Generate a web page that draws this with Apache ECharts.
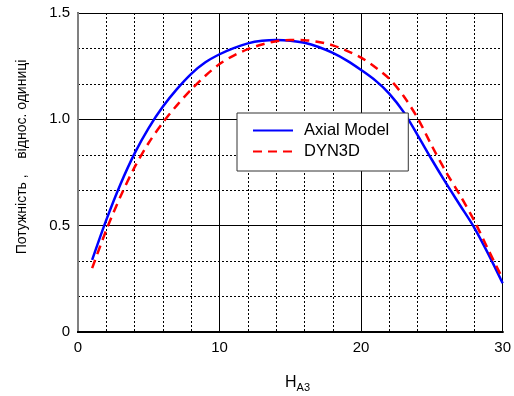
<!DOCTYPE html>
<html>
<head>
<meta charset="utf-8">
<script src="https://cdn.jsdelivr.net/npm/echarts@6/dist/echarts.min.js"></script>
<style>html,body{margin:0;padding:0;background:#fff;}#c{width:514px;height:396px;}</style>
</head>
<body>
<div id="c"></div>
<script>
var positions = [1,2,3,4,5,6,7,8,9,10,11,12,13,14,15,16,17,18,19,20,21,22,23,24,25,26,27,28,29,30];
var axialModel = [0.339,0.527,0.695,0.84,0.96,1.06,1.143,1.214,1.268,1.306,1.335,1.357,1.369,1.373,1.37,1.36,1.34,1.312,1.276,1.232,1.183,1.12,1.035,0.925,0.81,0.70,0.595,0.49,0.365,0.229];
var dyn3d = [0.30,0.48,0.637,0.775,0.89,0.985,1.067,1.14,1.205,1.26,1.30,1.33,1.352,1.367,1.373,1.372,1.364,1.348,1.322,1.29,1.245,1.19,1.11,1.005,0.875,0.752,0.642,0.522,0.385,0.25];
var seriesNames = ['Axial Model','DYN3D'];
var xTitle = 'H';
var xTitleSub = 'A3';
var yTitle = 'Потужність ,    віднос. одиниці';

function pairs(xs, ys){ return xs.map(function(x,i){ return [x, ys[i]]; }); }

var chart = echarts.init(document.getElementById('c'), null, {renderer:'canvas'});
var font = 'Liberation Sans, Arial, sans-serif';
chart.setOption({
  animation:false,
  backgroundColor:'#fff',
  grid:{left:78, right:8, top:13, bottom:64, show:false},
  xAxis:[{
    type:'value', min:0, max:30, interval:10,
    axisLine:{show:true, onZero:false, lineStyle:{color:'#000', width:2}},
    axisTick:{show:false},
    axisLabel:{color:'#000', fontSize:15, fontFamily:font, margin:8},
    splitLine:{show:true, lineStyle:{color:'#000', width:1}},
    minorTick:{show:false, splitNumber:5},
    minorSplitLine:{show:true, lineStyle:{color:'#000', width:1, type:[2,2]}}
  },{
    type:'value', min:0, max:30, position:'top',
    axisLine:{show:true, lineStyle:{color:'#000', width:2}},
    axisTick:{show:false}, axisLabel:{show:false}, splitLine:{show:false}
  }],
  yAxis:[{
    type:'value', min:0, max:1.5, interval:0.5,
    axisLine:{show:true, onZero:false, lineStyle:{color:'#000', width:2}},
    axisTick:{show:false},
    axisLabel:{color:'#000', fontSize:15, fontFamily:font, margin:8,
      formatter:function(v){ return v===0?'0':v.toFixed(1); }},
    splitLine:{show:true, lineStyle:{color:'#000', width:1}},
    minorTick:{show:false, splitNumber:3},
    minorSplitLine:{show:true, lineStyle:{color:'#000', width:1, type:[2,2]}}
  },{
    type:'value', min:0, max:1.5, position:'right',
    axisLine:{show:true, lineStyle:{color:'#808080', width:2}},
    axisTick:{show:false}, axisLabel:{show:false}, splitLine:{show:false}
  }],
  legend:{
    show:true, orient:'vertical', left:237, top:113,
    padding:[9,19,11,15], itemGap:4,
    backgroundColor:'#fff', borderColor:'#333', borderWidth:1,
    itemWidth:40, itemHeight:14,
    itemStyle:{opacity:0},
    textStyle:{color:'#000', fontSize:16.5, fontFamily:font, padding:[0,0,0,6]},
    data:[seriesNames[0], seriesNames[1]]
  },
  graphic:[
    {type:'text', x:22, y:157, rotation:Math.PI/2,
      style:{text:yTitle, fill:'#000', font:'14px '+font, align:'center', verticalAlign:'middle'}},
    {type:'text', x:285, y:372,
      style:{rich:{h:{fontSize:16, fontFamily:font, fill:'#000'}, s:{fontSize:11, fontFamily:font, fill:'#000', padding:[10,0,0,0]}},
        text:'{h|'+xTitle+'}{s|'+xTitleSub+'}'}}
  ],
  series:[
    {name:seriesNames[0], type:'line', smooth:0.3, symbol:'none', data:pairs(positions, axialModel),
      lineStyle:{color:'#0000ff', width:2.5}, itemStyle:{color:'#0000ff'}, z:3},
    {name:seriesNames[1], type:'line', smooth:0.3, symbol:'none', data:pairs(positions, dyn3d),
      lineStyle:{color:'#ff0000', width:2.5, type:[9,6]}, itemStyle:{color:'#ff0000'}, z:4}
  ]
});
</script>
</body>
</html>
